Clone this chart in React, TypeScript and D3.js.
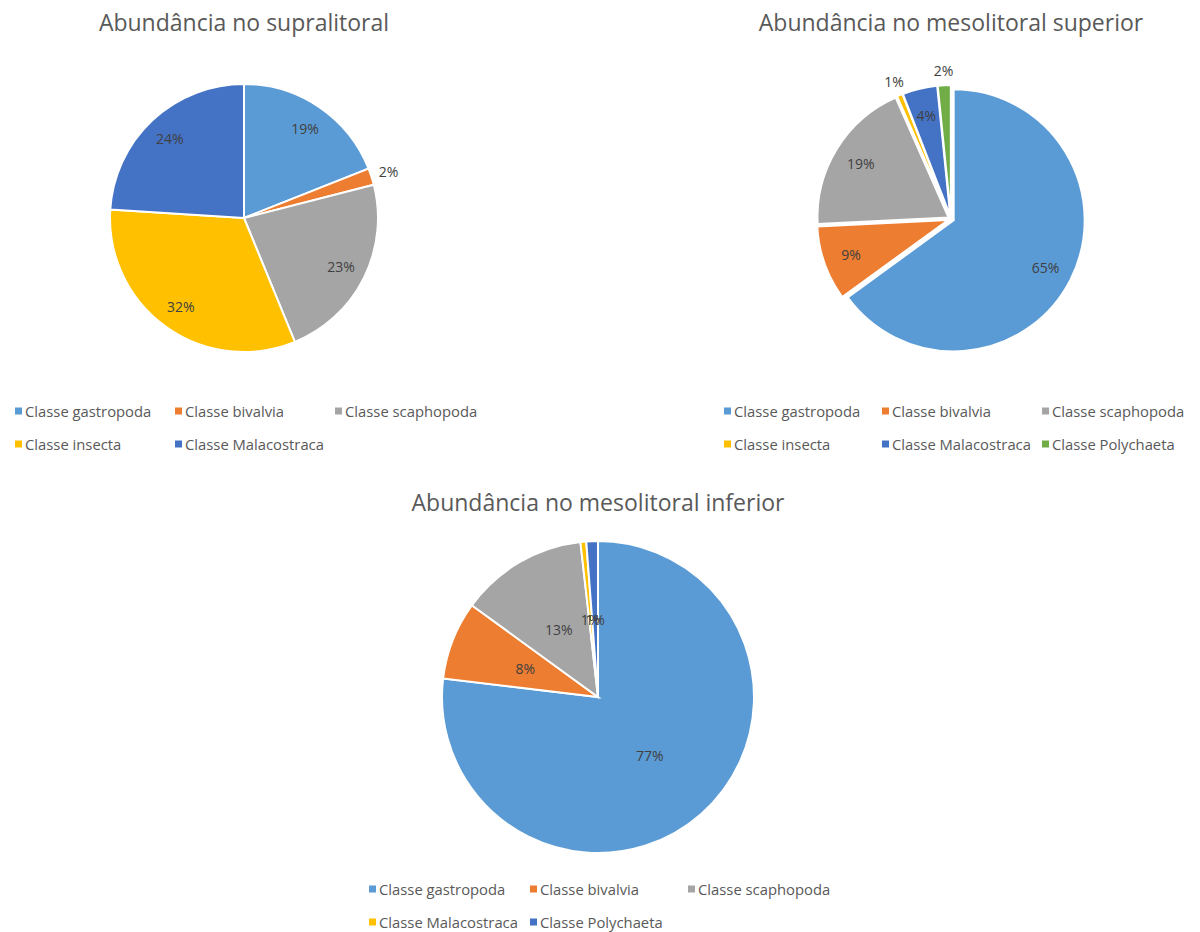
import React from "react";
import * as d3 from "d3";

const COLORS: Record<string, string> = {
  "Classe gastropoda": "#5B9BD5",
  "Classe bivalvia": "#ED7D31",
  "Classe scaphopoda": "#A5A5A5",
  "Classe insecta": "#FFC000",
  "Classe Malacostraca": "#4472C4",
  "Classe Polychaeta": "#70AD47",
};
const COLORS3: Record<string, string> = {
  "Classe gastropoda": "#5B9BD5",
  "Classe bivalvia": "#ED7D31",
  "Classe scaphopoda": "#A5A5A5",
  "Classe Malacostraca": "#FFC000",
  "Classe Polychaeta": "#4472C4",
};

const cats1 = ["Classe gastropoda", "Classe bivalvia", "Classe scaphopoda", "Classe insecta", "Classe Malacostraca"];
const vals1 = [19.0, 2.0, 22.8, 32.2, 24.0];

const cats2 = ["Classe gastropoda", "Classe bivalvia", "Classe scaphopoda", "Classe insecta", "Classe Malacostraca", "Classe Polychaeta"];
const vals2 = [65.0, 9.2, 19.2, 0.7, 4.3, 1.6];

const cats3 = ["Classe gastropoda", "Classe bivalvia", "Classe scaphopoda", "Classe Malacostraca", "Classe Polychaeta"];
const vals3 = [76.9, 8.1, 13.2, 0.6, 1.2];

const FONT = "'Open Sans', 'Noto Sans', sans-serif";
const TXT = "#595959";

type PieProps = {
  title: string;
  cats: string[];
  vals: number[];
  colors: Record<string, string>;
  cx: number;
  cy: number;
  r: number;
  titleY: number;
  labelFactor: number;
  outsideBelow: number;
  explode: number;
  legendX: number[];
  legendY: number[];
  legendCols: number;
};

function Pie(p: PieProps) {
  const total = d3.sum(p.vals);
  const pie = d3.pie<number>().sort(null).value((d) => d);
  const arcs = pie(p.vals);
  const arc = d3.arc<d3.PieArcDatum<number>>().innerRadius(0).outerRadius(p.r);
  const fmt = (v: number) => Math.round((v / total) * 100) + "%";
  return (
    <g>
      <text x={p.cx} y={p.titleY} textAnchor="middle" dominantBaseline="central" fontFamily={FONT} fontSize={23} fill={TXT}>
        {p.title}
      </text>
      {arcs.map((a, i) => {
        const mid = (a.startAngle + a.endAngle) / 2;
        const ox = Math.sin(mid) * p.explode;
        const oy = -Math.cos(mid) * p.explode;
        return (
          <path
            key={i}
            d={arc(a) || ""}
            transform={`translate(${p.cx + ox},${p.cy + oy})`}
            fill={p.colors[p.cats[i]]}
            stroke="#fff"
            strokeWidth={2}
          />
        );
      })}
      {arcs.map((a, i) => {
        const mid = (a.startAngle + a.endAngle) / 2;
        const pct = (p.vals[i] / total) * 100;
        const outside = pct < p.outsideBelow;
        const d = outside ? p.r + 18 : p.r * p.labelFactor;
        const x = p.cx + Math.sin(mid) * d;
        const y = p.cy - Math.cos(mid) * d;
        return (
          <text key={"l" + i} x={x} y={y} textAnchor="middle" dominantBaseline="central" fontFamily={FONT} fontSize={14} fill="#404040">
            {fmt(p.vals[i])}
          </text>
        );
      })}
      {p.cats.map((c, i) => {
        const col = i % p.legendCols;
        const row = Math.floor(i / p.legendCols);
        const x = p.legendX[col];
        const y = p.legendY[row];
        return (
          <g key={"g" + i}>
            <rect x={x} y={y - 3.5} width={7} height={7} fill={p.colors[c]} />
            <text x={x + 10} y={y} dominantBaseline="central" fontFamily={FONT} fontSize={14.8} fill={TXT}>
              {c}
            </text>
          </g>
        );
      })}
    </g>
  );
}

export default function App() {
  return (
    <svg width={1200} height={932} style={{ position: "absolute", left: 0, top: 0, background: "#fff" }}>
      <rect width={1200} height={932} fill="#fff" />
      <Pie
        title="Abundância no supralitoral"
        cats={cats1}
        vals={vals1}
        colors={COLORS}
        cx={244}
        cy={218}
        r={134}
        titleY={22}
        labelFactor={0.81}
        outsideBelow={3}
        explode={0}
        legendX={[15, 175, 335]}
        legendY={[411, 444]}
        legendCols={3}
      />
      <Pie
        title="Abundância no mesolitoral superior"
        cats={cats2}
        vals={vals2}
        colors={COLORS}
        cx={951}
        cy={219}
        r={131}
        titleY={22}
        labelFactor={0.81}
        outsideBelow={3}
        explode={3}
        legendX={[724, 882, 1042]}
        legendY={[411, 444]}
        legendCols={3}
      />
      <Pie
        title="Abundância no mesolitoral inferior"
        cats={cats3}
        vals={vals3}
        colors={COLORS3}
        cx={598}
        cy={697}
        r={156}
        titleY={502}
        labelFactor={0.5}
        outsideBelow={0}
        explode={0}
        legendX={[369, 530, 688]}
        legendY={[889, 922]}
        legendCols={3}
      />
    </svg>
  );
}
